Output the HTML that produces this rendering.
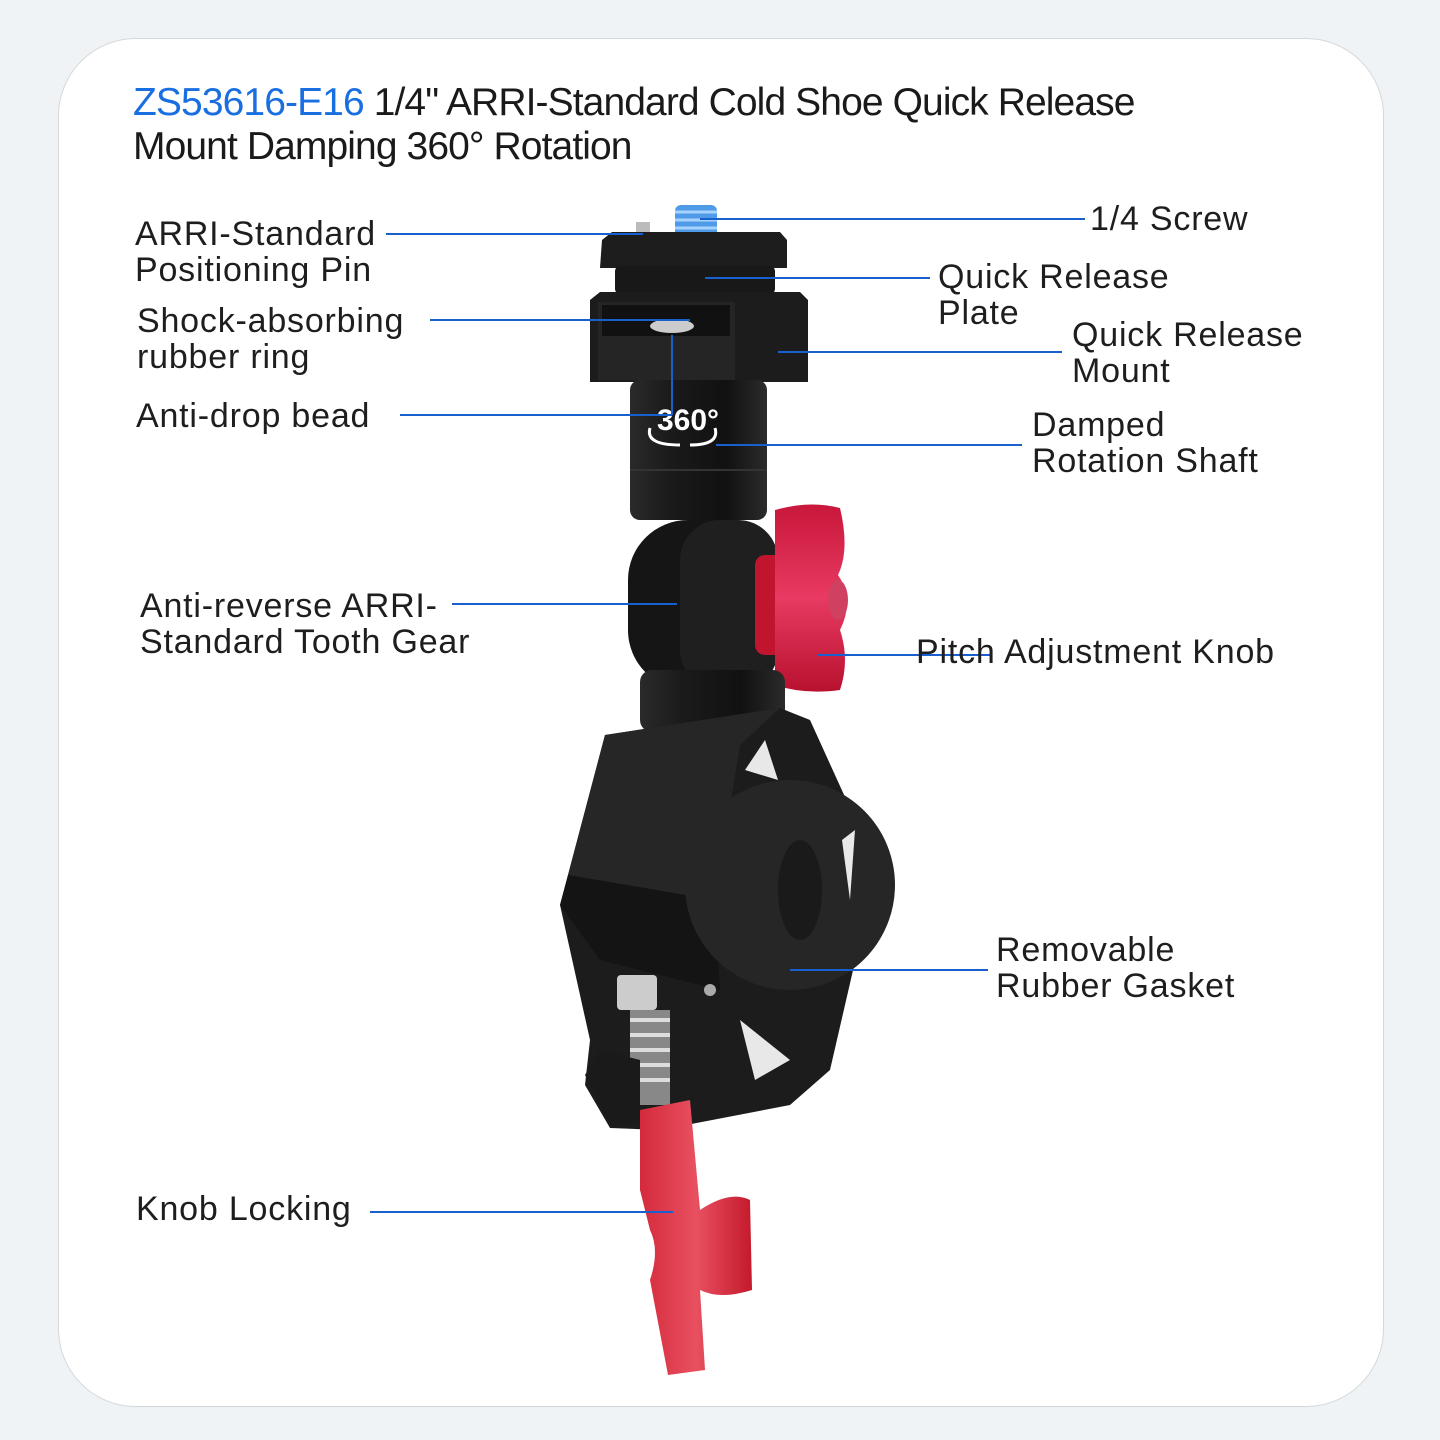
<!DOCTYPE html>
<html><head><meta charset="utf-8"><style>
html,body{margin:0;padding:0;}
body{width:1440px;height:1440px;background:#eff3f5;position:relative;overflow:hidden;font-family:"Liberation Sans",sans-serif;}
.card{position:absolute;left:58px;top:38px;width:1324px;height:1367px;background:#fff;border:1px solid #d4d8da;border-radius:78px;}
.t{position:absolute;color:#1e1e1e;font-size:34px;line-height:36px;letter-spacing:0.8px;white-space:nowrap;}
.title{position:absolute;left:133px;top:81px;font-size:39px;line-height:44px;color:#1a1a1a;letter-spacing:-0.9px;}
.title b{font-weight:normal;color:#1a6fe0;}
svg{position:absolute;left:0;top:0;}
</style></head><body>
<div class="card"></div>
<div class="title"><b>ZS53616-E16</b> 1/4" ARRI-Standard Cold Shoe Quick Release<br>Mount Damping 360° Rotation</div>
<svg width="1440" height="1440" viewBox="0 0 1440 1440">
<defs>
<linearGradient id="blk" x1="0" x2="1"><stop offset="0" stop-color="#2a2a2a"/><stop offset="0.3" stop-color="#1a1a1a"/><stop offset="0.7" stop-color="#111"/><stop offset="1" stop-color="#2b2b2b"/></linearGradient>
<linearGradient id="red" x1="0" x2="0" y1="0" y2="1"><stop offset="0" stop-color="#c8173a"/><stop offset="0.5" stop-color="#e83a62"/><stop offset="1" stop-color="#b8112e"/></linearGradient>
<linearGradient id="red2" x1="0" x2="1"><stop offset="0" stop-color="#d42a3c"/><stop offset="0.5" stop-color="#e85060"/><stop offset="1" stop-color="#c41a2c"/></linearGradient>
</defs>
<rect x="675" y="205" width="42" height="35" rx="6" fill="#4f9be8"/>
<path d="M675 212h42M675 220h42M675 228h42" stroke="#a9d3ff" stroke-width="3"/>
<rect x="636" y="222" width="14" height="20" fill="#bbb"/>
<path d="M602 240 L612 232 L780 232 L787 240 L787 268 L600 268 Z" fill="#1d1d1d"/>
<rect x="615" y="266" width="160" height="28" rx="5" fill="#181818"/>
<path d="M590 300 L600 292 L800 292 L808 300 L808 382 L590 382 Z" fill="#1c1c1c"/>
<path d="M598 302 L735 302 L735 380 L598 380 Z" fill="#252525"/>
<path d="M602 305 L730 305 L730 336 L602 336Z" fill="#111"/>
<ellipse cx="672" cy="326" rx="22" ry="7" fill="#ccc"/>
<rect x="630" y="380" width="137" height="140" rx="10" fill="url(#blk)"/>
<line x1="630" y1="470" x2="767" y2="470" stroke="#333" stroke-width="2"/>
<text x="657" y="430" fill="#fff" font-size="30" font-weight="bold" font-family="Liberation Sans">360°</text>
<path d="M650 428 Q645 445 680 445 M715 428 Q720 445 690 445" stroke="#fff" stroke-width="3" fill="none"/>
<rect x="628" y="520" width="150" height="170" rx="60" fill="#151515"/>
<rect x="680" y="520" width="98" height="170" rx="40" fill="#1f1f1f"/>
<rect x="755" y="555" width="30" height="100" rx="10" fill="#c0142f"/>
<path d="M775 510 Q810 500 840 508 Q850 550 838 575 Q855 600 840 630 Q850 660 840 690 Q805 695 775 685 Z" fill="url(#red)"/>
<ellipse cx="838" cy="600" rx="10" ry="20" fill="#d04060"/>
<rect x="640" y="670" width="145" height="62" rx="12" fill="url(#blk)"/>
<path d="M605 735 L780 708 L810 720 L860 830 L860 940 L830 1070 L790 1105 L660 1130 L610 1128 L585 1085 L590 1040 L560 905 L568 875 Z" fill="#1c1c1c"/>
<path d="M568 875 L605 735 L780 708 L740 745 L715 900 Z" fill="#262626"/>
<path d="M568 875 L715 900 L720 990 L600 960 L560 905 Z" fill="#141414"/>
<circle cx="790" cy="885" r="105" fill="#262626"/>
<ellipse cx="800" cy="890" rx="22" ry="50" fill="#1a1a1a"/>
<path d="M745 770 L765 740 L778 780 Z M842 840 L855 830 L850 900 Z M740 1020 L790 1060 L755 1080Z" fill="#fff" opacity="0.9"/>
<circle cx="710" cy="990" r="6" fill="#aaa"/>
<rect x="617" y="975" width="40" height="35" rx="4" fill="#ccc"/>
<rect x="630" y="1010" width="40" height="95" fill="#888"/>
<path d="M630 1020h40M630 1035h40M630 1050h40M630 1065h40M630 1080h40" stroke="#ddd" stroke-width="4"/>
<path d="M585 1075 L600 1050 L640 1060 L640 1120 L612 1128 Z" fill="#1a1a1a"/>
<path d="M640 1110 L690 1100 L700 1210 Q730 1190 750 1200 L752 1290 Q720 1300 700 1290 L705 1370 L668 1375 L650 1280 Q660 1250 650 1230 L640 1190 Z" fill="url(#red2)"/>
<g stroke="#1a5fd0" stroke-width="2" fill="none">
<line x1="386" y1="234" x2="643" y2="234"/>
<line x1="700" y1="219" x2="1085" y2="219"/>
<line x1="705" y1="278" x2="930" y2="278"/>
<line x1="430" y1="320" x2="690" y2="320"/>
<line x1="778" y1="352" x2="1062" y2="352"/>
<line x1="400" y1="415" x2="672" y2="415"/>
<line x1="672" y1="335" x2="672" y2="415"/>
<line x1="716" y1="445" x2="1022" y2="445"/>
<line x1="452" y1="604" x2="677" y2="604"/>
<line x1="818" y1="655" x2="990" y2="655"/>
<line x1="790" y1="970" x2="988" y2="970"/>
<line x1="370" y1="1212" x2="673" y2="1212"/>
</g>
</svg>
<div class="t" style="left:135px;top:216px">ARRI-Standard<br>Positioning Pin</div>
<div class="t" style="left:137px;top:303px">Shock-absorbing<br>rubber ring</div>
<div class="t" style="left:136px;top:398px">Anti-drop bead</div>
<div class="t" style="left:140px;top:588px">Anti-reverse ARRI-<br>Standard Tooth Gear</div>
<div class="t" style="left:136px;top:1191px">Knob Locking</div>
<div class="t" style="left:1090px;top:201px">1/4 Screw</div>
<div class="t" style="left:938px;top:259px">Quick Release<br>Plate</div>
<div class="t" style="left:1072px;top:317px">Quick Release<br>Mount</div>
<div class="t" style="left:1032px;top:407px">Damped<br>Rotation Shaft</div>
<div class="t" style="left:916px;top:634px">Pitch Adjustment Knob</div>
<div class="t" style="left:996px;top:932px">Removable<br>Rubber Gasket</div>
</body></html>
